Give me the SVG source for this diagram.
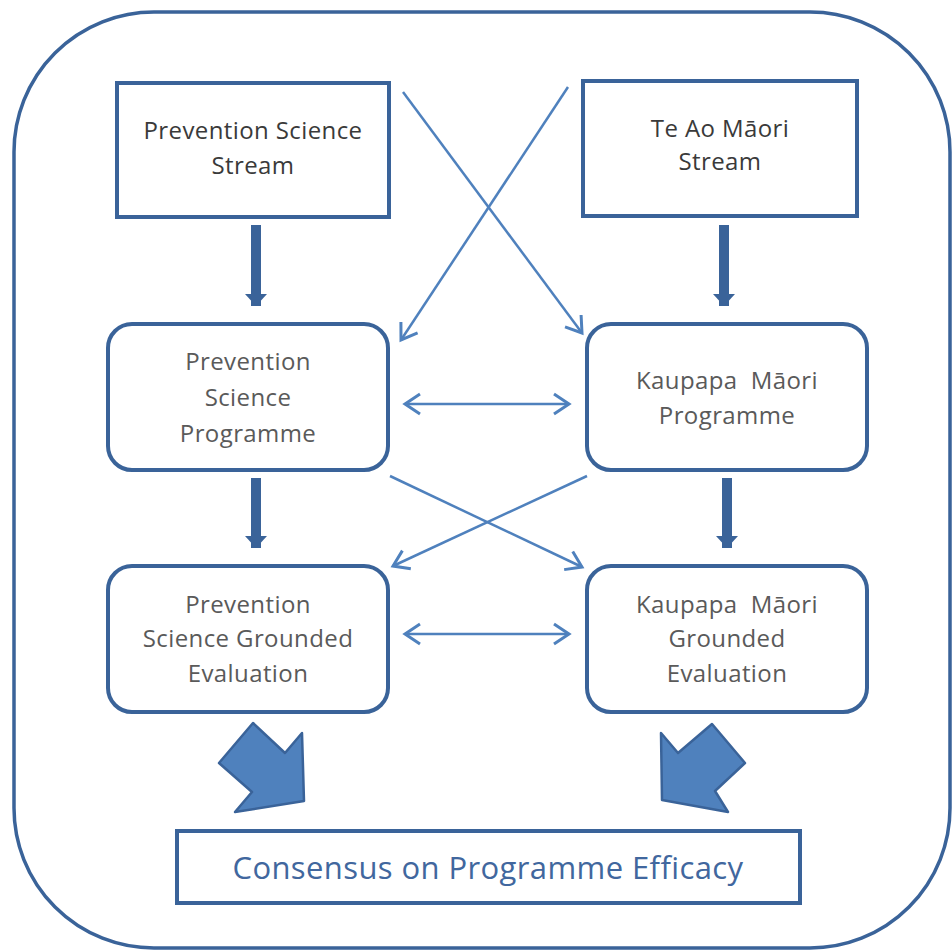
<svg xmlns="http://www.w3.org/2000/svg" width="952" height="952" viewBox="0 0 952 952">
<defs>
<marker id="chev" markerUnits="userSpaceOnUse" markerWidth="24" markerHeight="24" viewBox="-20 -12 24 24" refX="0" refY="0" orient="auto-start-reverse">
<polyline points="-15,-10 0,0 -15,10" fill="none" stroke="#4f81bd" stroke-width="3" stroke-linejoin="miter"/>
</marker>
<marker id="tri" markerUnits="userSpaceOnUse" markerWidth="26" markerHeight="26" viewBox="-13 -13 26 26" refX="0" refY="0" orient="auto">
<polygon points="-12,-11 0,0 -12,11" fill="#3a6399"/>
</marker>
</defs>
<style>
.box{fill:#fff;stroke:#3a6399;stroke-width:4}
.t{font-family:"Open Sans","Noto Sans",sans-serif;font-size:24px;text-anchor:middle;letter-spacing:0.4px}
.dk{fill:#3a3a3a}
.gr{fill:#5a5a5a}
.thin{fill:none;stroke:#4f81bd;stroke-width:2.5}
.thick{fill:none;stroke:#3a6399;stroke-width:10}
.blk{fill:#4f81bd;stroke:#3a6399;stroke-width:2.5;stroke-linejoin:round}
</style>
<rect x="0" y="0" width="952" height="952" fill="#fff"/>
<rect x="14" y="12" width="936" height="936" rx="140" ry="140" fill="none" stroke="#3a6399" stroke-width="3.5"/>

<g id="connectors">
<line class="thick" x1="256" y1="225" x2="256" y2="306" marker-end="url(#tri)"/>
<line class="thick" x1="724" y1="225" x2="724" y2="306" marker-end="url(#tri)"/>
<line class="thick" x1="256" y1="478" x2="256" y2="548" marker-end="url(#tri)"/>
<line class="thick" x1="727" y1="478" x2="727" y2="548" marker-end="url(#tri)"/>
<line class="thin" x1="403" y1="92" x2="582" y2="333" marker-end="url(#chev)"/>
<line class="thin" x1="568" y1="87" x2="401" y2="340" marker-end="url(#chev)"/>
<line class="thin" x1="405" y1="404" x2="569" y2="404" marker-start="url(#chev)" marker-end="url(#chev)"/>
<line class="thin" x1="405" y1="634" x2="569" y2="634" marker-start="url(#chev)" marker-end="url(#chev)"/>
<line class="thin" x1="390" y1="476" x2="582" y2="567" marker-end="url(#chev)"/>
<line class="thin" x1="587" y1="476" x2="393" y2="566" marker-end="url(#chev)"/>
<polygon class="blk" points="253,723 285,753 302,733 304,801 235,812 252,792 219,763"/>
<polygon class="blk" points="712,724 745,763 715,791 728,812 662,800 661,733 678,753"/>
</g>

<g id="ps-stream">
<rect class="box" x="117" y="83" width="272" height="134"/>
<text class="t dk" x="253" y="139">Prevention Science</text>
<text class="t dk" x="253" y="174">Stream</text>
</g>
<g id="tam-stream">
<rect class="box" x="583" y="81" width="274" height="135"/>
<text class="t dk" x="720" y="137">Te Ao Māori</text>
<text class="t dk" x="720" y="170">Stream</text>
</g>
<g id="ps-programme">
<rect class="box" x="108" y="324" width="280" height="146" rx="24"/>
<text class="t gr" x="248" y="370">Prevention</text>
<text class="t gr" x="248" y="406">Science</text>
<text class="t gr" x="248" y="442">Programme</text>
</g>
<g id="km-programme">
<rect class="box" x="587" y="324" width="280" height="146" rx="24"/>
<text class="t gr" x="727" y="389" xml:space="preserve">Kaupapa  Māori</text>
<text class="t gr" x="727" y="424">Programme</text>
</g>
<g id="ps-evaluation">
<rect class="box" x="108" y="566" width="280" height="146" rx="24"/>
<text class="t gr" x="248" y="613">Prevention</text>
<text class="t gr" x="248" y="647">Science Grounded</text>
<text class="t gr" x="248" y="682">Evaluation</text>
</g>
<g id="km-evaluation">
<rect class="box" x="587" y="566" width="280" height="146" rx="24"/>
<text class="t gr" x="727" y="613" xml:space="preserve">Kaupapa  Māori</text>
<text class="t gr" x="727" y="647">Grounded</text>
<text class="t gr" x="727" y="682">Evaluation</text>
</g>
<g id="consensus">
<rect class="box" x="177" y="831" width="623" height="72"/>
<text x="488" y="879" font-family="'Open Sans','Noto Sans',sans-serif" font-size="31" letter-spacing="0.4" text-anchor="middle" fill="#41679e">Consensus on Programme Efficacy</text>
</g>
</svg>
